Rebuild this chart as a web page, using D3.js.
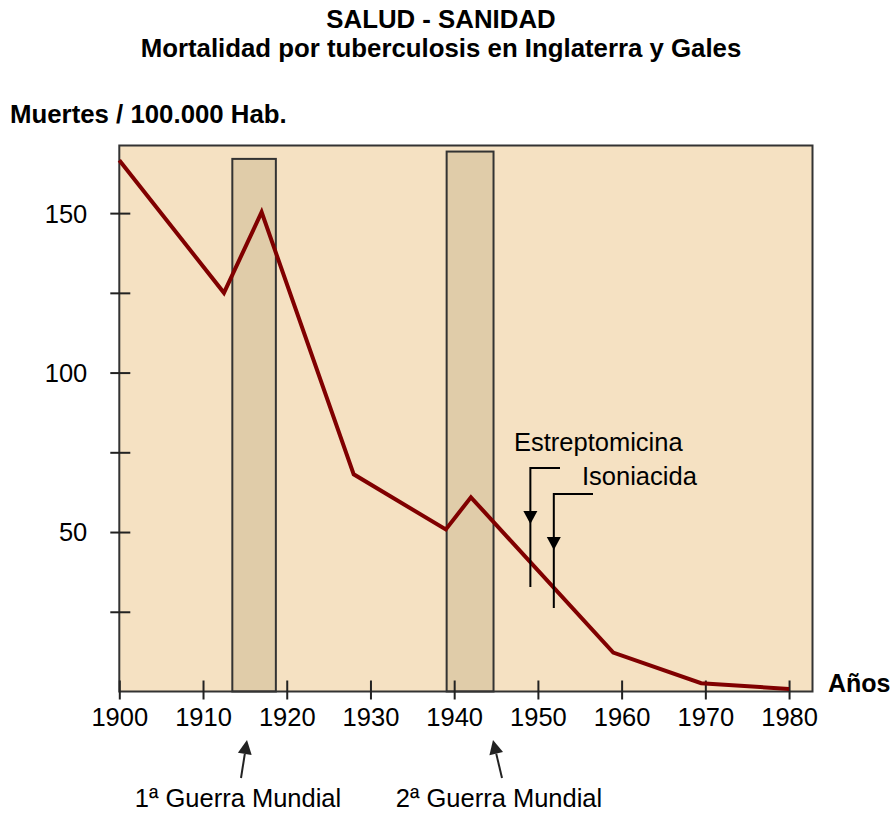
<!DOCTYPE html>
<html><head><meta charset="utf-8">
<script src="https://cdn.jsdelivr.net/npm/d3@7"></script>
<style>body{margin:0;background:#fff}svg{display:block}text{font-family:"Liberation Sans",Arial,sans-serif;fill:#000}</style>
</head><body>
<svg id="c" width="896" height="814"></svg>
<script>
const years = [1900, 1912.5, 1917, 1928, 1939, 1942, 1959, 1969.5, 1980];
const deaths = [166.6, 125, 150.3, 68.1, 50.8, 60.9, 12.2, 2.6, 0.8];
const warLabels = ["1ª Guerra Mundial", "2ª Guerra Mundial"];
const warStart = [1913.5, 1939.1];
const warEnd = [1918.7, 1944.7];
const warTop = [167, 169.3];
const drugLabels = ["Estreptomicina", "Isoniacida"];
const drugYears = [1949.1, 1951.9];
const xTicks = [1900, 1910, 1920, 1930, 1940, 1950, 1960, 1970, 1980];
const yTicks = [25, 50, 75, 100, 125, 150];
const yLabels = [50, 100, 150];

const svg = d3.select("#c");
const x = d3.scaleLinear().domain([1900, 1982.8]).range([119.3, 812.5]);
const y = d3.scaleLinear().domain([0, 171.2]).range([691.5, 145.5]);
const FONT = "Liberation Sans, Arial, sans-serif";

// background
svg.append("rect").attr("x", x(1900)).attr("y", y(171.2))
  .attr("width", x(1982.8) - x(1900)).attr("height", y(0) - y(171.2))
  .attr("fill", "#f5e1c2");

// war bars
const wars = warLabels.map((l, i) => ({label: l, start: warStart[i], end: warEnd[i], top: warTop[i]}));
svg.selectAll("rect.war").data(wars).join("rect").attr("class", "war")
  .attr("x", d => x(d.start)).attr("y", d => y(d.top))
  .attr("width", d => x(d.end) - x(d.start)).attr("height", d => y(0) - y(d.top))
  .attr("fill", "#e0cca9").attr("stroke", "#333").attr("stroke-width", 2);

// border
svg.append("rect").attr("x", x(1900)).attr("y", y(171.2))
  .attr("width", x(1982.8) - x(1900)).attr("height", y(0) - y(171.2))
  .attr("fill", "none").attr("stroke", "#333").attr("stroke-width", 2);

// x axis
const xa = svg.append("g").attr("transform", `translate(0,${y(0)})`)
  .call(d3.axisBottom(x).tickValues(xTicks).tickFormat(d3.format("d")).tickSize(0).tickPadding(0));
xa.select(".domain").remove();
xa.selectAll(".tick line").attr("y1", 8).attr("y2", -11).attr("stroke", "#222").attr("stroke-width", 2);
xa.selectAll(".tick text").attr("y", 34).attr("dy", 0).attr("font-size", 25.5)
  .attr("font-family", FONT).attr("fill", "#000");

// y axis
const ya = svg.append("g").attr("transform", `translate(${x(1900)},0)`)
  .call(d3.axisLeft(y).tickValues(yTicks).tickFormat(d => yLabels.includes(d) ? d : "").tickSize(0));
ya.select(".domain").remove();
ya.selectAll(".tick line").attr("x1", -9).attr("x2", 11).attr("stroke", "#222").attr("stroke-width", 2);
ya.selectAll(".tick text").attr("x", -32).attr("dy", "0.35em").attr("font-size", 25.5)
  .attr("font-family", FONT).attr("fill", "#000");

// data line
svg.append("path").datum(years.map((yr, i) => [yr, deaths[i]]))
  .attr("d", d3.line().x(d => x(d[0])).y(d => y(d[1])))
  .attr("fill", "none").attr("stroke", "#800000").attr("stroke-width", 4)
  .attr("stroke-linejoin", "miter");

// drug annotations
const annLayout = [
  {tx: 514, ty: 451, hy: 468, hx2: 560, headTop: 511, bottom: 587},
  {tx: 582, ty: 485, hy: 494, hx2: 593, headTop: 537, bottom: 608}
];
drugLabels.forEach((label, i) => {
  const a = annLayout[i];
  const ax = x(drugYears[i]);
  svg.append("text").attr("x", a.tx).attr("y", a.ty).attr("font-size", 25.5).text(label);
  svg.append("path").attr("d", `M${a.hx2},${a.hy}H${ax}V${a.bottom}`)
    .attr("fill", "none").attr("stroke", "#000").attr("stroke-width", 2);
  svg.append("path").attr("d", `M${ax-7},${a.headTop}L${ax+7},${a.headTop}L${ax},${a.headTop+13}Z`).attr("fill", "#000");
});

// war arrows and labels
const warArrow = [
  {tipX: 247, tailX: 241, cx: 238},
  {tipX: 493, tailX: 502, cx: 499}
];
wars.forEach((w, i) => {
  const a = warArrow[i];
  const tipY = 740, tailY = 778;
  const ang = Math.atan2(tipY - tailY, a.tipX - a.tailX);
  const L = 14, W = 7;
  const bx = a.tipX - L * Math.cos(ang), by = tipY - L * Math.sin(ang);
  const px = -Math.sin(ang) * W, py = Math.cos(ang) * W;
  svg.append("line").attr("x1", a.tailX).attr("y1", tailY).attr("x2", bx).attr("y2", by)
    .attr("stroke", "#222").attr("stroke-width", 2);
  svg.append("path").attr("d", `M${a.tipX},${tipY}L${bx+px},${by+py}L${bx-px},${by-py}Z`).attr("fill", "#222");
  svg.append("text").attr("x", a.cx).attr("y", 807).attr("text-anchor", "middle").attr("font-size", 25.5).text(w.label);
});

// titles
svg.append("text").attr("x", 441).attr("y", 28).attr("text-anchor", "middle").attr("font-size", 25.8).attr("font-weight", "bold").text("SALUD - SANIDAD");
svg.append("text").attr("x", 441).attr("y", 57).attr("text-anchor", "middle").attr("font-size", 25.8).attr("font-weight", "bold").text("Mortalidad por tuberculosis en Inglaterra y Gales");
svg.append("text").attr("x", 10).attr("y", 123).attr("font-size", 25.8).attr("font-weight", "bold").text("Muertes / 100.000 Hab.");
svg.append("text").attr("x", 828).attr("y", 692).attr("font-size", 25).attr("font-weight", "bold").text("Años");
</script>
</body></html>
